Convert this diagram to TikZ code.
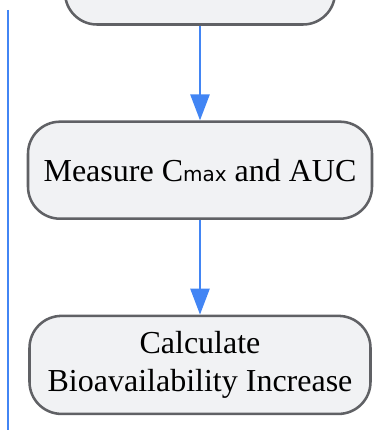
\documentclass[tikz,border=0pt]{standalone}
\usepackage{fontspec}
\setmainfont{Liberation Serif}
\newfontfamily\subfont{DejaVu Sans}
\usetikzlibrary{positioning, arrows.meta}
\definecolor{flowblue}{HTML}{4285F4}
\definecolor{boxfill}{HTML}{F1F2F4}
\definecolor{boxline}{HTML}{606165}
\tikzset{
  stepbox/.style={draw=boxline, fill=boxfill, line width=1.9pt, rounded corners=24pt,
    align=center, inner sep=0pt, font=\fontsize{24}{28.5}\selectfont},
  flow/.style={draw=flowblue, line width=1.9pt, -{Triangle[length=19.5pt, width=14.25pt]}}
}

\begin{document}
\begin{tikzpicture}[x=0.75pt, y=-0.75pt]
	\useasboundingbox (0,0) rectangle (388,431);
	\clip (0,0) rectangle (388,431);
	
	\node[stepbox, minimum width=202.5pt, minimum height=72.75pt] (prev) at (200,-24) {};
	\node[stepbox, minimum width=258pt, minimum height=72.75pt, below=71pt of prev] (measure) {Measure C{\subfont\fontsize{15}{15}\selectfont max} and AUC};
	\node[stepbox, minimum width=255.75pt, minimum height=73.5pt, below=71pt of measure] (calc) {Calculate\\Bioavailability Increase};
	
	\coordinate (railtop) at (8,10);
	\coordinate (railbot) at (8,430);
	\draw[flowblue, line width=2.1pt] (railtop) -- (railbot);
	
	\draw[flow] (prev) -- (measure);
	\draw[flow] (measure) -- (calc);
\end{tikzpicture}
\end{document}
